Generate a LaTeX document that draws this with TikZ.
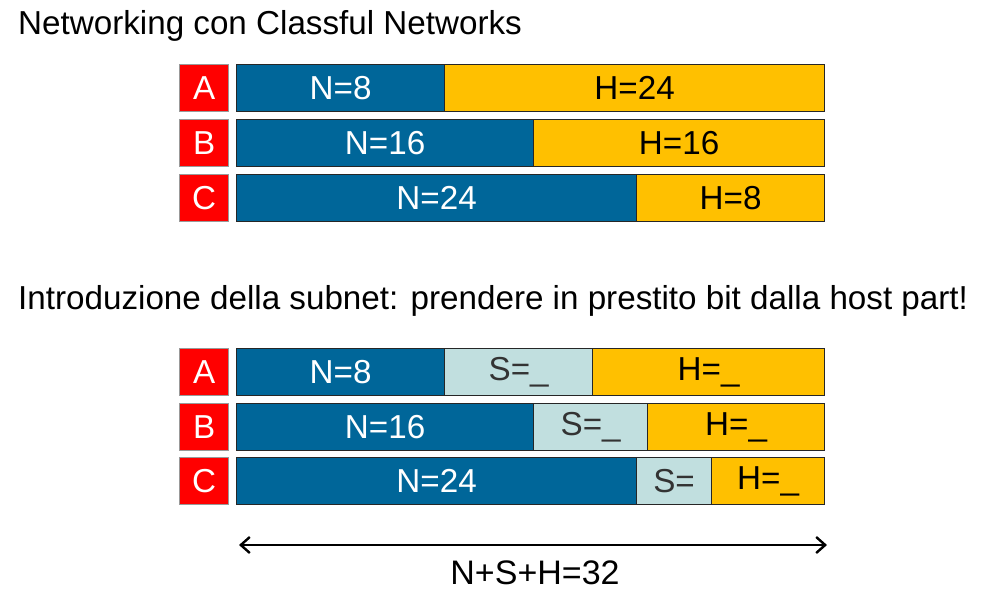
\documentclass[tikz,border=0pt]{standalone}
\usepackage{fontspec}
\setmainfont{Liberation Sans}
\usetikzlibrary{arrows.meta}
\definecolor{nblue}{RGB}{0,102,153}
\definecolor{hyel}{RGB}{255,192,0}
\definecolor{steal}{RGB}{193,223,223}
\definecolor{cred}{RGB}{255,0,0}
\begin{document}
\begin{tikzpicture}[x=1pt,y=-1pt,
  every node/.style={font=\fontsize{33.2}{40}\selectfont},
  seg/.style={draw=black!85,line width=1.2pt,inner sep=0pt,anchor=north west,minimum height=47pt},
  nseg/.style={seg,fill=nblue,text=white},
  sseg/.style={seg,fill=steal,text=black!80},
  hseg/.style={seg,fill=hyel,text=black},
  cls/.style={draw=black!40,line width=1.2pt,fill=cred,text=white,inner sep=0pt,anchor=north west,minimum width=49pt,minimum height=47pt},
  ttl/.style={anchor=base west,inner sep=0pt}]
\useasboundingbox (0,0) rectangle (997,606);
\node[ttl] (t1) at (18,34) {Networking con Classful Networks};
% group 1
\node[cls] (a1) at (179,64) {A};
\node[cls] (b1) at (179,119) {B};
\node[cls] (c1) at (179,174) {C};
\node[nseg,minimum width=208pt] (a1n) at (236,64) {N=8};
\node[hseg,minimum width=380pt] (a1h) at (444,64) {H=24};
\node[nseg,minimum width=297pt] (b1n) at (236,119) {N=16};
\node[hseg,minimum width=291pt] (b1h) at (533,119) {H=16};
\node[nseg,minimum width=400pt] (c1n) at (236,174) {N=24};
\node[hseg,minimum width=188pt] (c1h) at (636,174) {H=8};
\node[ttl] (t2) at (18,309) {Introduzione della subnet: prendere in prestito bit dalla host part!};
% group 2
\node[cls] (a2) at (179,348) {A};
\node[cls] (b2) at (179,403) {B};
\node[cls] (c2) at (179,457) {C};
\node[nseg,minimum width=208pt] (a2n) at (236,348) {N=8};
\node[sseg,minimum width=148pt] (a2s) at (444,348) {S=\_};
\node[hseg,minimum width=232pt] (a2h) at (592,348) {H=\_};
\node[nseg,minimum width=297pt] (b2n) at (236,403) {N=16};
\node[sseg,minimum width=114pt] (b2s) at (533,403) {S=\_};
\node[hseg,minimum width=177pt] (b2h) at (647,403) {H=\_};
\node[nseg,minimum width=400pt] (c2n) at (236,457) {N=24};
\node[sseg,minimum width=75pt] (c2s) at (636,457) {S=};
\node[hseg,minimum width=113pt] (c2h) at (711,457) {H=\_};
% arrow
\coordinate (l) at (239,545);
\coordinate (r) at (827,545);
\draw[line width=2.4pt,{Straight Barb[length=9pt,width=16pt]}-{Straight Barb[length=9pt,width=16pt]}] (l) -- (r);
\node[font=\fontsize{34}{40}\selectfont,anchor=base,inner sep=0pt] (sum) at (535,584) {N+S+H=32};
\end{tikzpicture}
\end{document}
